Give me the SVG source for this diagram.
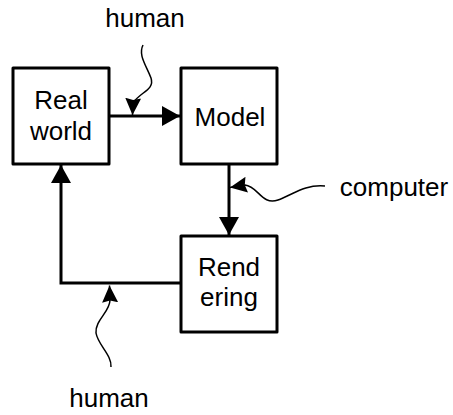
<svg xmlns="http://www.w3.org/2000/svg" width="453" height="415" viewBox="0 0 453 415">
<defs>
<style>
.box{fill:#fff;stroke:#000;stroke-width:3;stroke-linejoin:round}
.lbl{font-family:"Liberation Sans",Arial,sans-serif;font-size:26px;fill:#000;text-anchor:middle}
.edge{fill:none;stroke:#000;stroke-width:3}
.wave{fill:none;stroke:#000;stroke-width:1.5}
</style>
<marker id="ah" viewBox="0 0 18 20" refX="18" refY="10" markerWidth="18" markerHeight="20" markerUnits="userSpaceOnUse" orient="auto">
<path d="M0,0 L18,10 L0,20 Z" fill="#000"/>
</marker>
<marker id="sh" viewBox="0 0 17 16" refX="17" refY="8" markerWidth="17" markerHeight="16" markerUnits="userSpaceOnUse" orient="auto">
<path d="M0,0 L17,8 L0,16 L2,8 Z" fill="#000"/>
</marker>
</defs>
<g id="connectors">
<path class="edge" d="M109,116 L180,116" marker-end="url(#ah)"/>
<path class="edge" d="M229,164 L229,235" marker-end="url(#ah)"/>
<path class="edge" d="M181,283 L61,283 L61,165" marker-end="url(#ah)"/>
<path class="wave" d="M143,45 C138,55 146,65 151,78 C155,90 140,92 133,103 L132.5,115" marker-end="url(#sh)"/>
<path class="wave" d="M325,186 C305,184 292,195 278,200 C262,206 258,186 245,185 L230,187.5" marker-end="url(#sh)"/>
<path class="wave" d="M111,367 C112,355 98,345 96,333 C95,320 110,312 110,300 L109.5,285.5" marker-end="url(#sh)"/>
</g>
<g id="real-world">
<rect class="box" x="13" y="68" width="96" height="96"/>
<text class="lbl" x="61" y="109">Real</text>
<text class="lbl" x="61" y="140">world</text>
</g>
<g id="model">
<rect class="box" x="181" y="68" width="96" height="96"/>
<text class="lbl" x="230" y="126">Model</text>
</g>
<g id="rendering">
<rect class="box" x="181" y="236" width="96" height="96"/>
<text class="lbl" x="229" y="276">Rend</text>
<text class="lbl" x="229" y="306">ering</text>
</g>
<g id="labels">
<text class="lbl" x="145" y="27">human</text>
<text class="lbl" x="394" y="196">computer</text>
<text class="lbl" x="109" y="407">human</text>
</g>
</svg>
